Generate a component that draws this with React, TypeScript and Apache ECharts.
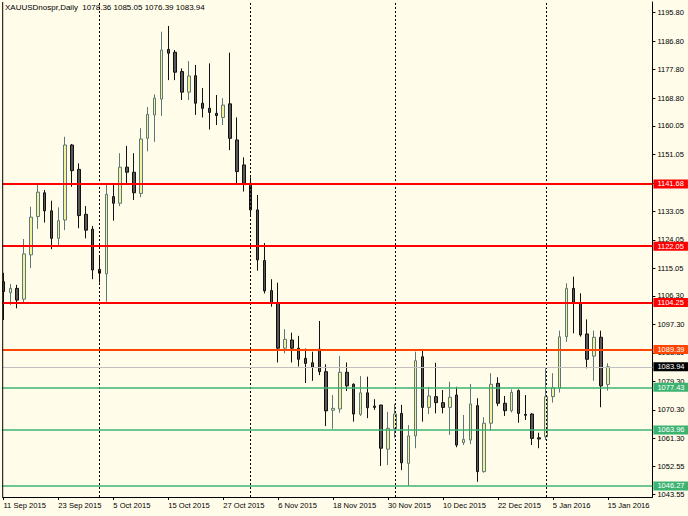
import React, { useEffect, useRef } from 'react';
import * as echarts from 'echarts';

const symbolName = 'XAUUSDnospr,Daily';

const dates = [
  '11 Sep 2015', '14 Sep 2015', '15 Sep 2015', '16 Sep 2015', '17 Sep 2015', '18 Sep 2015', '21 Sep 2015',
  '22 Sep 2015', '23 Sep 2015', '24 Sep 2015', '25 Sep 2015', '28 Sep 2015', '29 Sep 2015', '30 Sep 2015',
  '1 Oct 2015', '2 Oct 2015', '5 Oct 2015', '6 Oct 2015', '7 Oct 2015', '8 Oct 2015', '9 Oct 2015',
  '12 Oct 2015', '13 Oct 2015', '14 Oct 2015', '15 Oct 2015', '16 Oct 2015', '19 Oct 2015', '20 Oct 2015',
  '21 Oct 2015', '22 Oct 2015', '23 Oct 2015', '26 Oct 2015', '27 Oct 2015', '28 Oct 2015', '29 Oct 2015',
  '30 Oct 2015', '2 Nov 2015', '3 Nov 2015', '4 Nov 2015', '5 Nov 2015', '6 Nov 2015', '9 Nov 2015',
  '10 Nov 2015', '11 Nov 2015', '12 Nov 2015', '13 Nov 2015', '16 Nov 2015', '17 Nov 2015', '18 Nov 2015',
  '19 Nov 2015', '20 Nov 2015', '23 Nov 2015', '24 Nov 2015', '25 Nov 2015', '26 Nov 2015', '27 Nov 2015',
  '30 Nov 2015', '1 Dec 2015', '2 Dec 2015', '3 Dec 2015', '4 Dec 2015', '7 Dec 2015', '8 Dec 2015',
  '9 Dec 2015', '10 Dec 2015', '11 Dec 2015', '14 Dec 2015', '15 Dec 2015', '16 Dec 2015', '17 Dec 2015',
  '18 Dec 2015', '21 Dec 2015', '22 Dec 2015', '23 Dec 2015', '24 Dec 2015', '28 Dec 2015', '29 Dec 2015',
  '30 Dec 2015', '31 Dec 2015', '4 Jan 2016', '5 Jan 2016', '6 Jan 2016', '7 Jan 2016', '8 Jan 2016',
  '11 Jan 2016', '12 Jan 2016', '13 Jan 2016', '14 Jan 2016', '15 Jan 2016',
];

const opens = [
  1110.8, 1107.3, 1108.7, 1105.3, 1119.3, 1131.4, 1138.9, 1133.2, 1124.5, 1130.3, 1154.0, 1146.3, 1132.1, 1127.4,
  1114.7, 1113.3, 1137.7, 1135.6, 1147.0, 1145.4, 1138.7, 1156.1, 1163.5, 1168.5, 1184.2, 1183.3, 1177.2, 1170.7,
  1175.9, 1167.2, 1165.6, 1164.0, 1162.7, 1167.0, 1155.6, 1147.7, 1141.9, 1133.5, 1117.5, 1108.0, 1104.0, 1089.8,
  1092.4, 1089.8, 1086.6, 1085.2, 1089.5, 1082.4, 1070.2, 1070.6, 1082.2, 1078.4, 1068.9, 1075.7, 1071.5, 1071.85,
  1057.9, 1064.4, 1069.2, 1053.4, 1062.1, 1087.1, 1071.1, 1074.5, 1072.6, 1071.1, 1075.0, 1060.0, 1060.8, 1071.65,
  1050.8, 1066.1, 1078.7, 1072.4, 1070.05, 1076.4, 1068.9, 1069.0, 1061.5, 1061.85, 1074.5, 1077.1, 1093.4, 1108.7,
  1104.2, 1094.3, 1087.3, 1093.25, 1078.36,
];
const highs = [
  1113.6, 1110.1, 1109.8, 1124.3, 1134.5, 1141.7, 1139.8, 1136.4, 1134.3, 1156.6, 1154.3, 1148.2, 1134.7, 1128.4,
  1119.3, 1141.4, 1141.9, 1151.4, 1153.7, 1151.4, 1159.3, 1166.0, 1170.0, 1189.8, 1191.6, 1184.0, 1178.2, 1180.5,
  1179.3, 1172.0, 1179.8, 1169.8, 1168.8, 1183.2, 1162.7, 1150.1, 1143.8, 1138.2, 1123.0, 1111.6, 1110.5, 1095.8,
  1094.7, 1093.7, 1089.7, 1088.7, 1098.4, 1084.7, 1075.0, 1087.3, 1085.3, 1078.7, 1081.0, 1080.8, 1073.7, 1071.9,
  1069.7, 1072.2, 1071.9, 1065.5, 1088.7, 1089.5, 1077.6, 1085.2, 1076.6, 1079.2, 1077.6, 1068.7, 1078.5, 1074.0,
  1068.0, 1081.9, 1080.6, 1074.7, 1076.8, 1076.8, 1075.0, 1069.3, 1063.1, 1083.45, 1081.9, 1095.35, 1110.3, 1112.4,
  1107.15, 1098.9, 1095.35, 1095.35, 1085.05,
];
const lows = [
  1098.7, 1103.5, 1102.4, 1104.0, 1115.1, 1127.5, 1129.5, 1121.1, 1121.9, 1127.1, 1140.8, 1127.7, 1124.5, 1111.6,
  1110.5, 1104.5, 1130.1, 1134.7, 1141.9, 1136.6, 1137.5, 1152.0, 1155.0, 1163.2, 1174.5, 1174.5, 1168.2, 1168.2,
  1163.5, 1162.7, 1158.9, 1160.3, 1160.3, 1152.4, 1141.9, 1139.3, 1131.9, 1114.3, 1107.1, 1102.9, 1085.3, 1088.2,
  1085.3, 1084.0, 1078.8, 1079.5, 1081.3, 1065.2, 1064.3, 1069.4, 1076.3, 1066.6, 1068.4, 1067.7, 1070.3, 1052.6,
  1052.9, 1061.5, 1051.3, 1046.3, 1058.2, 1066.6, 1069.0, 1069.2, 1069.2, 1062.4, 1058.5, 1059.2, 1059.5, 1047.6,
  1050.5, 1063.7, 1071.5, 1068.4, 1069.5, 1066.25, 1067.1, 1059.2, 1058.2, 1060.8, 1072.6, 1075.8, 1091.8, 1094.5,
  1093.45, 1083.45, 1079.5, 1071.15, 1076.39,
];
const closes = [
  1107.7, 1108.7, 1105.0, 1119.6, 1131.2, 1139.1, 1133.2, 1124.5, 1130.1, 1154.0, 1145.9, 1131.7, 1127.1, 1114.5,
  1113.5, 1138.4, 1135.6, 1147.0, 1145.4, 1138.9, 1155.9, 1163.7, 1168.8, 1184.0, 1183.0, 1177.0, 1170.7, 1175.8,
  1167.2, 1165.6, 1164.3, 1163.3, 1166.6, 1156.1, 1145.6, 1141.9, 1133.5, 1117.7, 1107.9, 1104.0, 1089.8, 1092.6,
  1089.8, 1086.3, 1085.0, 1083.8, 1082.4, 1070.0, 1070.8, 1082.2, 1077.9, 1069.0, 1075.7, 1071.0, 1071.1, 1058.2,
  1064.5, 1069.0, 1053.6, 1062.1, 1085.85, 1071.1, 1074.7, 1072.6, 1071.1, 1074.3, 1059.2, 1061.0, 1072.2, 1050.8,
  1066.1, 1078.4, 1072.4, 1070.05, 1075.85, 1069.2, 1068.6, 1061.3, 1061.1, 1074.5, 1077.3, 1093.4, 1108.7, 1104.3,
  1094.0, 1086.3, 1093.25, 1077.9, 1083.94,
];

// price-scale ticks (all) and the labels that are not fully hidden behind a level badge
const yTickValues = [
  1043.55, 1052.55, 1061.3, 1070.3, 1079.3, 1088.3, 1097.3, 1106.3, 1115.05, 1124.05, 1133.05, 1142.05,
  1151.05, 1160.05, 1168.8, 1177.8, 1186.8, 1195.8,
];
const yLabelValues = [
  1043.55, 1052.55, 1061.3, 1070.3, 1079.3, 1088.3, 1097.3, 1106.3, 1115.05, 1124.05, 1133.05,
  1151.05, 1160.05, 1168.8, 1177.8, 1186.8, 1195.8,
];

const resistanceLevels = [1141.68, 1122.05, 1104.25];
const pivotLevels = [1089.39];
const supportLevels = [1077.43, 1063.96, 1046.27];
const separatorDates = ['1 Oct 2015', '2 Nov 2015', '1 Dec 2015', '4 Jan 2016'];
const emptySlots = 6;
const labelEvery = 8;

const BG = '#fffcea';
const FONT = '"Liberation Sans", Arial, sans-serif';

export default function App() {
  const ref = useRef<HTMLDivElement>(null);

  useEffect(() => {
    if (!ref.current) return;
    const chart = echarts.init(ref.current, null, { renderer: 'svg' });
    const n = dates.length;
    const categories = dates.concat(Array.from({ length: emptySlots }, (_, k) => `__pad${k}`));
    const candleData = dates.map((_, i) => [opens[i], closes[i], lows[i], highs[i]]);
    const last = n - 1;
    const current = closes[last];
    const title = `${symbolName}  ${opens[last].toFixed(2)} ${highs[last].toFixed(2)} ${lows[last].toFixed(2)} ${closes[last].toFixed(2)}`;

    const showIdx = (index: number) => index % labelEvery === 0 && index < n;

    const badge = (bg: string) => ({
      show: true,
      position: 'end' as const,
      distance: 1,
      formatter: (p: any) => Number(p.value).toFixed(2),
      color: '#ffffff',
      backgroundColor: bg,
      padding: [1, 4, 0, 4],
      fontSize: 7.5,
      lineHeight: 8,
      fontFamily: FONT,
    });

    const hLine = (v: number, color: string, width: number, badgeColor: string) => ({
      yAxis: v,
      lineStyle: { color, width, type: 'solid' as const },
      label: badge(badgeColor),
    });

    const markData: any[] = [
      ...separatorDates.map((d) => ({
        xAxis: d,
        lineStyle: { color: '#000000', width: 1, type: [2, 2] },
        label: { show: false },
      })),
      hLine(current, '#c0c0c0', 1, '#000000'),
      ...resistanceLevels.map((v) => hLine(v, '#ff0000', 2, '#ff0000')),
      ...pivotLevels.map((v) => hLine(v, '#ff4500', 2, '#ff4500')),
      ...supportLevels.map((v) => hLine(v, '#3cb371', 1.6, '#3cb371')),
    ];

    chart.setOption({
      animation: false,
      backgroundColor: BG,
      grid: { left: -0.74, right: 35.6, top: 2, bottom: 19, containLabel: false },
      xAxis: {
        type: 'category',
        data: categories,
        boundaryGap: true,
        axisLine: { show: true, lineStyle: { color: '#000000', width: 1 } },
        axisTick: {
          show: true,
          alignWithLabel: true,
          interval: (index: number) => showIdx(index),
          length: 3,
          lineStyle: { color: '#000000' },
        },
        axisLabel: {
          interval: (index: number) => showIdx(index),
          align: 'left',
          margin: 4,
          fontSize: 7.6,
          color: '#000000',
          fontFamily: FONT,
          formatter: (v: string) => (v.startsWith('__pad') ? '' : v),
        },
        splitLine: { show: false },
      },
      yAxis: {
        type: 'value',
        position: 'right',
        min: 1042.79,
        max: 1199.18,
        axisLine: { show: true, lineStyle: { color: '#000000', width: 1 } },
        axisTick: { show: true, length: 3, lineStyle: { color: '#000000' }, customValues: yTickValues },
        axisLabel: {
          customValues: yLabelValues,
          formatter: (v: number) => v.toFixed(2),
          margin: 5,
          fontSize: 7.5,
          color: '#000000',
          fontFamily: FONT,
        },
        splitLine: { show: false },
      },
      graphic: [
        {
          type: 'rect',
          shape: { x: 0, y: 0, width: 2.2, height: 498 },
          style: { fill: BG },
          z: 100,
          silent: true,
        },
        {
          type: 'line',
          shape: { x1: 2.7, y1: 2, x2: 2.7, y2: 497 },
          style: { stroke: '#000000', lineWidth: 1 },
          z: 101,
          silent: true,
        },
        {
          type: 'text',
          left: 5,
          top: 3.5,
          style: { text: title, font: `8px ${FONT}`, fill: '#000000' },
          z: 102,
          silent: true,
        },
      ],
      series: [
        {
          type: 'candlestick',
          data: candleData,
          barWidth: 3,
          itemStyle: {
            color: '#f5f19b',
            color0: '#575757',
            borderColor: '#5b7878',
            borderColor0: '#111111',
            borderWidth: 1,
          },
          markLine: {
            silent: true,
            symbol: ['none', 'none'],
            animation: false,
            precision: 2,
            data: markData,
          },
        },
      ],
    });

    return () => chart.dispose();
  }, []);

  return (
    <div
      ref={ref}
      style={{ position: 'fixed', left: 0, top: 0, width: 688, height: 516, background: BG }}
    />
  );
}
